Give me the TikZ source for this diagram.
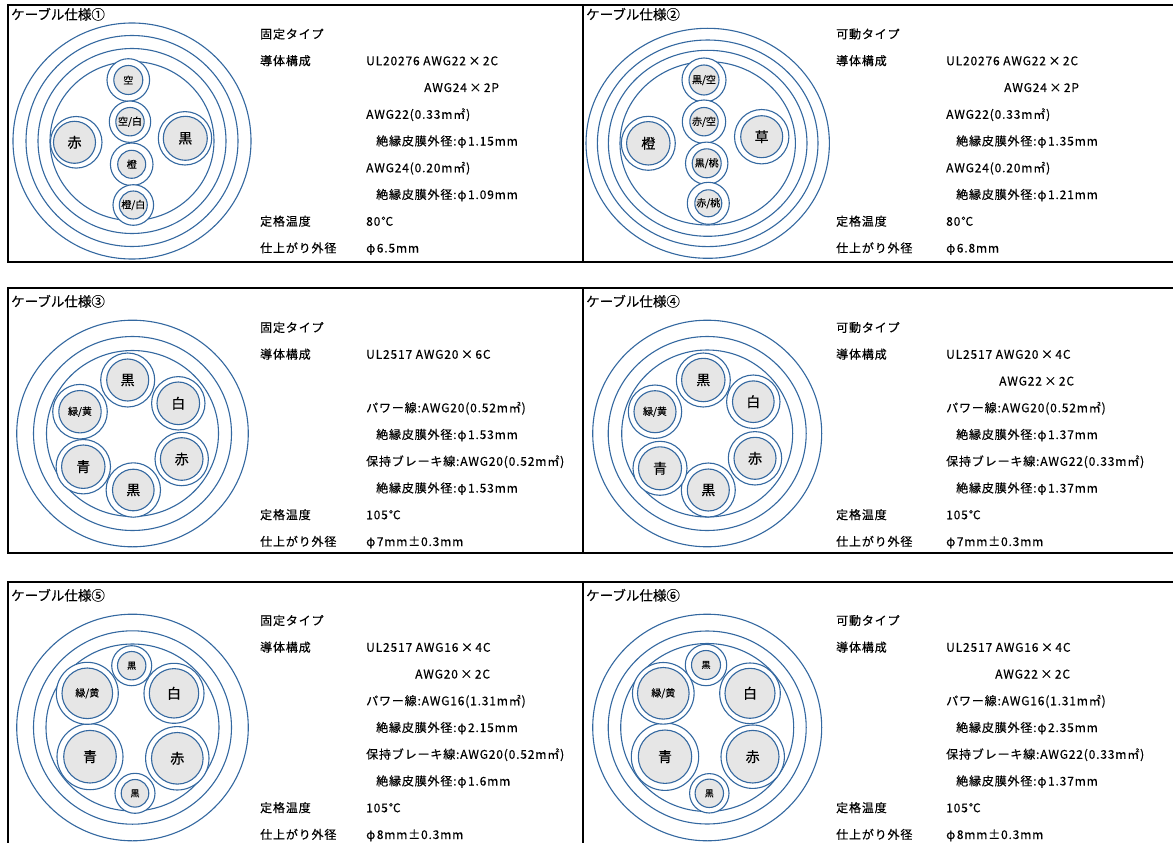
\documentclass[tikz,border=0pt]{standalone}
\usepackage{fontspec}
\setmainfont{Noto Sans CJK JP}
\newfontfamily\txtfont{Noto Sans CJK JP}[LetterSpace=7.0,FakeBold=0.3]
\newfontfamily\lblfont{Noto Sans CJK JP}[FakeBold=0.3]
\definecolor{cblue}{RGB}{52,104,160}
\definecolor{cgray}{RGB}{230,230,230}
\tikzset{
  ring/.style={draw=cblue, line width=1.1pt},
  wout/.style={circle, draw=cblue, line width=1.1pt, fill=white, inner sep=0pt, minimum size=#1},
  win/.style={circle, draw=cblue, line width=1.1pt, fill=cgray, inner sep=0pt, minimum size=#1},
  box/.style={draw=black, line width=2.3pt, line join=miter},
  txt/.style={anchor=west, inner sep=0pt, text height=10pt, text depth=2pt, font=\txtfont\fontsize{12}{12}\selectfont},
  ttl/.style={anchor=west, inner sep=0pt, text height=11.5pt, text depth=2.5pt, font=\lblfont\fontsize{13.5}{13.5}\selectfont},
}
\newcommand\LblB{\lblfont\fontsize{14}{14}\selectfont}
\newcommand\LblM{\lblfont\fontsize{10}{10}\selectfont}
\newcommand\LblS{\lblfont\fontsize{9}{9}\selectfont}
\newcommand\phiA{φ\hspace{1.5pt}}
\newcommand\tms{\hspace{2.5pt}×\hspace{2.5pt}}
% name, x, y, Ro, xi, yi, Ri, label
\newcommand\wire[8]{%
  \node[wout={2*#4pt}] (#1o) at (#2,#3) {};
  \node[win={2*#7pt}] (#1) at (#5,#6) {#8};
}
\newcommand\tx[4]{\node[txt] (#1) at (#2,#3) {#4};}
\begin{document}
\begin{tikzpicture}[x=1pt,y=-1pt]
\useasboundingbox (0,0) rectangle (1173,843);
\fill[white] (0,0) rectangle (1173,843);

% ---------- frames ----------
\draw[box] (1173,5) -- (8,5) -- (8,262) -- (1173,262);
\draw[box] (583,5) -- (583,262);
\draw[box] (1173,288) -- (8,288) -- (8,553) -- (1173,553);
\draw[box] (583,288) -- (583,553);
\draw[box] (1173,582) -- (8,582) -- (8,843);
\draw[box] (583,582) -- (583,843);

% ---------- titles ----------
\node[ttl] (t1) at (11,15) {ケーブル仕様①};
\node[ttl] (t2) at (586,15) {ケーブル仕様②};
\node[ttl] (t3) at (11,302) {ケーブル仕様③};
\node[ttl] (t4) at (586,302) {ケーブル仕様④};
\node[ttl] (t5) at (11,596) {ケーブル仕様⑤};
\node[ttl] (t6) at (586,596) {ケーブル仕様⑥};

% ---------- cable 1 ----------
\draw[ring] (132,141) ellipse [x radius=119, y radius=118];
\draw[ring] (132,141) ellipse [x radius=106, y radius=105.5];
\draw[ring] (132,141) ellipse [x radius=94, y radius=92.5];
\draw[ring] (132,141) ellipse [x radius=82, y radius=79.5];
\wire{c1a}{128.3}{80}{21.3}{128.3}{80}{14.5}{\LblM 空}
\wire{c1b}{130}{121.7}{20.7}{130}{121.7}{14.2}{\LblM 空/白}
\wire{c1c}{131.7}{164.3}{21.3}{131.7}{164.3}{14}{\LblM 橙}
\wire{c1d}{133.3}{205}{20.3}{133.3}{205}{14}{\LblM 橙/白}
\wire{c1e}{76.2}{142.3}{25.8}{74.5}{142.3}{21}{\LblB 赤}
\wire{c1f}{185}{138.3}{26.7}{185.3}{138.3}{22}{\LblB 黒}

% ---------- cable 2 ----------
\draw[ring] (707.7,143.3) ellipse [x radius=121.7, y radius=115];
\draw[ring] (707.7,143.3) ellipse [x radius=110.3, y radius=103.3];
\draw[ring] (707.7,143.3) ellipse [x radius=99.3, y radius=93];
\draw[ring] (707.7,143.3) ellipse [x radius=87.7, y radius=81.7];
\wire{c2a}{704}{80}{22}{704}{80}{15}{\LblM 黒/空}
\wire{c2b}{704}{121.7}{21.7}{704}{121.7}{14.2}{\LblM 赤/空}
\wire{c2c}{706.7}{163.3}{21.2}{706.7}{163.3}{14.5}{\LblM 黒/桃}
\wire{c2d}{708.3}{203.3}{21}{708.3}{203.3}{13.5}{\LblM 赤/桃}
\wire{c2e}{648.3}{143.3}{27}{648.3}{143.3}{21.7}{\LblB 橙}
\wire{c2f}{761.7}{136.7}{27.2}{761.7}{136.7}{21}{\LblB 草}

% ---------- cable 3 ----------
\draw[ring] (132.5,433.5) ellipse [x radius=115.8, y radius=113.3];
\draw[ring] (132.5,433.5) ellipse [x radius=99, y radius=97];
\draw[ring] (132.5,433.5) ellipse [x radius=86, y radius=83];
\wire{c3a}{127.7}{380}{27}{127.7}{380}{21}{\LblB 黒}
\wire{c3b}{178.3}{403.3}{26.7}{178.3}{403.3}{21.3}{\LblB 白}
\wire{c3c}{181.7}{459}{26.7}{181.7}{459}{21.3}{\LblB 赤}
\wire{c3d}{133.3}{490}{27.2}{133.3}{490}{20.8}{\LblB 黒}
\wire{c3e}{83.3}{466.7}{27.2}{83.3}{466.7}{21.7}{\LblB 青}
\wire{c3f}{80}{411.7}{27.3}{80}{411.7}{21.2}{\LblM 緑/黄}

% ---------- cable 4 ----------
\draw[ring] (707.2,433.5) ellipse [x radius=114.5, y radius=113.3];
\draw[ring] (707.2,433.5) ellipse [x radius=99, y radius=97];
\draw[ring] (707.2,433.5) ellipse [x radius=85.5, y radius=83.5];
\wire{c4a}{703.3}{380}{27}{703.3}{380}{21.7}{\LblB 黒}
\wire{c4b}{753.3}{401.7}{26.7}{753.3}{401.7}{20.8}{\LblB 白}
\wire{c4c}{755}{458.3}{26.7}{755}{458.3}{21}{\LblB 赤}
\wire{c4d}{708.3}{490}{27}{708.3}{490}{21}{\LblB 黒}
\wire{c4e}{660}{468.3}{27}{660}{468.3}{21.5}{\LblB 青}
\wire{c4f}{655}{411.7}{26.7}{655}{411.7}{21}{\LblM 緑/黄}

% ---------- cable 5 ----------
\draw[ring] (132.5,727.5) ellipse [x radius=115.8, y radius=113.3];
\draw[ring] (132.5,727.5) ellipse [x radius=99, y radius=96.7];
\draw[ring] (132.5,727.5) ellipse [x radius=86.5, y radius=83.5];
\wire{c5a}{131.7}{665.7}{20}{131.7}{665.7}{14.2}{\LblS 黒}
\wire{c5b}{174}{693.3}{30}{174}{693.3}{24.7}{\LblB 白}
\wire{c5c}{177.3}{758.3}{31.7}{177.3}{758.3}{25.8}{\LblB 赤}
\wire{c5d}{135}{793.3}{20}{135}{793.3}{13.8}{\LblS 黒}
\wire{c5e}{90}{756.7}{33}{90}{756.7}{26.3}{\LblB 青}
\wire{c5f}{87.3}{693.3}{31}{87.3}{693.3}{25.3}{\LblM 緑/黄}

% ---------- cable 6 ----------
\draw[ring] (707.2,727.5) ellipse [x radius=114.5, y radius=113.3];
\draw[ring] (707.2,727.5) ellipse [x radius=99, y radius=96.5];
\draw[ring] (707.2,727.5) ellipse [x radius=86.5, y radius=84];
\wire{c6a}{706}{665}{20.7}{706}{665}{14.5}{\LblS 黒}
\wire{c6b}{750}{693.3}{30.3}{750}{693.3}{25}{\LblB 白}
\wire{c6c}{752.7}{756.7}{31.7}{752.7}{756.7}{26.3}{\LblB 赤}
\wire{c6d}{709.3}{793.3}{19.7}{709.3}{793.3}{14.2}{\LblS 黒}
\wire{c6e}{665}{756.7}{33.7}{665}{756.7}{26.7}{\LblB 青}
\wire{c6f}{663.3}{693.3}{30.8}{663.3}{693.3}{25.8}{\LblM 緑/黄}

% ---------- text panel 1 ----------
\tx{a1}{260}{34.5}{固定タイプ}
\tx{a2}{260}{61.25}{導体構成}
\tx{a3}{366}{61.25}{UL20276 AWG22\tms 2C}
\tx{a4}{424}{88}{AWG24\tms 2P}
\tx{a5}{366}{114.75}{AWG22(0.33m㎡)}
\tx{a6}{376}{141.5}{絶縁皮膜外径:\phiA 1.15mm}
\tx{a7}{366}{168.25}{AWG24(0.20m㎡)}
\tx{a8}{376}{195}{絶縁皮膜外径:\phiA 1.09mm}
\tx{a9}{260}{221.75}{定格温度}
\tx{a10}{366}{221.75}{80℃}
\tx{a11}{260}{248.5}{仕上がり外径}
\tx{a12}{366}{248.5}{\phiA 6.5mm}

% ---------- text panel 2 ----------
\tx{b1}{836}{34.5}{可動タイプ}
\tx{b2}{836}{61.25}{導体構成}
\tx{b3}{946}{61.25}{UL20276 AWG22\tms 2C}
\tx{b4}{1004}{88}{AWG24\tms 2P}
\tx{b5}{946}{114.75}{AWG22(0.33m㎡)}
\tx{b6}{956}{141.5}{絶縁皮膜外径:\phiA 1.35mm}
\tx{b7}{946}{168.25}{AWG24(0.20m㎡)}
\tx{b8}{956}{195}{絶縁皮膜外径:\phiA 1.21mm}
\tx{b9}{836}{221.75}{定格温度}
\tx{b10}{946}{221.75}{80℃}
\tx{b11}{836}{248.5}{仕上がり外径}
\tx{b12}{946}{248.5}{\phiA 6.8mm}

% ---------- text panel 3 ----------
\tx{d1}{260}{328}{固定タイプ}
\tx{d2}{260}{354.75}{導体構成}
\tx{d3}{366}{354.75}{UL2517 AWG20\tms 6C}
\tx{d5}{366}{408.25}{パワー線:AWG20(0.52m㎡)}
\tx{d6}{376}{435}{絶縁皮膜外径:\phiA 1.53mm}
\tx{d7}{366}{461.75}{保持ブレーキ線:AWG20(0.52m㎡)}
\tx{d8}{376}{488.5}{絶縁皮膜外径:\phiA 1.53mm}
\tx{d9}{260}{515.25}{定格温度}
\tx{d10}{366}{515.25}{105℃}
\tx{d11}{260}{542}{仕上がり外径}
\tx{d12}{366}{542}{\phiA 7mm±0.3mm}

% ---------- text panel 4 ----------
\tx{e1}{836}{328}{可動タイプ}
\tx{e2}{836}{354.75}{導体構成}
\tx{e3}{946}{354.75}{UL2517 AWG20\tms 4C}
\tx{e4}{999}{381.5}{AWG22\tms 2C}
\tx{e5}{946}{408.25}{パワー線:AWG20(0.52m㎡)}
\tx{e6}{956}{435}{絶縁皮膜外径:\phiA 1.37mm}
\tx{e7}{946}{461.75}{保持ブレーキ線:AWG22(0.33m㎡)}
\tx{e8}{956}{488.5}{絶縁皮膜外径:\phiA 1.37mm}
\tx{e9}{836}{515.25}{定格温度}
\tx{e10}{946}{515.25}{105℃}
\tx{e11}{836}{542}{仕上がり外径}
\tx{e12}{946}{542}{\phiA 7mm±0.3mm}

% ---------- text panel 5 ----------
\tx{f1}{260}{621}{固定タイプ}
\tx{f2}{260}{647.75}{導体構成}
\tx{f3}{366}{647.75}{UL2517 AWG16\tms 4C}
\tx{f4}{415}{674.5}{AWG20\tms 2C}
\tx{f5}{366}{701.25}{パワー線:AWG16(1.31m㎡)}
\tx{f6}{376}{728}{絶縁皮膜外径:\phiA 2.15mm}
\tx{f7}{366}{754.75}{保持ブレーキ線:AWG20(0.52m㎡)}
\tx{f8}{376}{781.5}{絶縁皮膜外径:\phiA 1.6mm}
\tx{f9}{260}{808.25}{定格温度}
\tx{f10}{366}{808.25}{105℃}
\tx{f11}{260}{835}{仕上がり外径}
\tx{f12}{366}{835}{\phiA 8mm±0.3mm}

% ---------- text panel 6 ----------
\tx{g1}{836}{621}{可動タイプ}
\tx{g2}{836}{647.75}{導体構成}
\tx{g3}{946}{647.75}{UL2517 AWG16\tms 4C}
\tx{g4}{995}{674.5}{AWG22\tms 2C}
\tx{g5}{946}{701.25}{パワー線:AWG16(1.31m㎡)}
\tx{g6}{956}{728}{絶縁皮膜外径:\phiA 2.35mm}
\tx{g7}{946}{754.75}{保持ブレーキ線:AWG22(0.33m㎡)}
\tx{g8}{956}{781.5}{絶縁皮膜外径:\phiA 1.37mm}
\tx{g9}{836}{808.25}{定格温度}
\tx{g10}{946}{808.25}{105℃}
\tx{g11}{836}{835}{仕上がり外径}
\tx{g12}{946}{835}{\phiA 8mm±0.3mm}
\end{tikzpicture}
\end{document}
